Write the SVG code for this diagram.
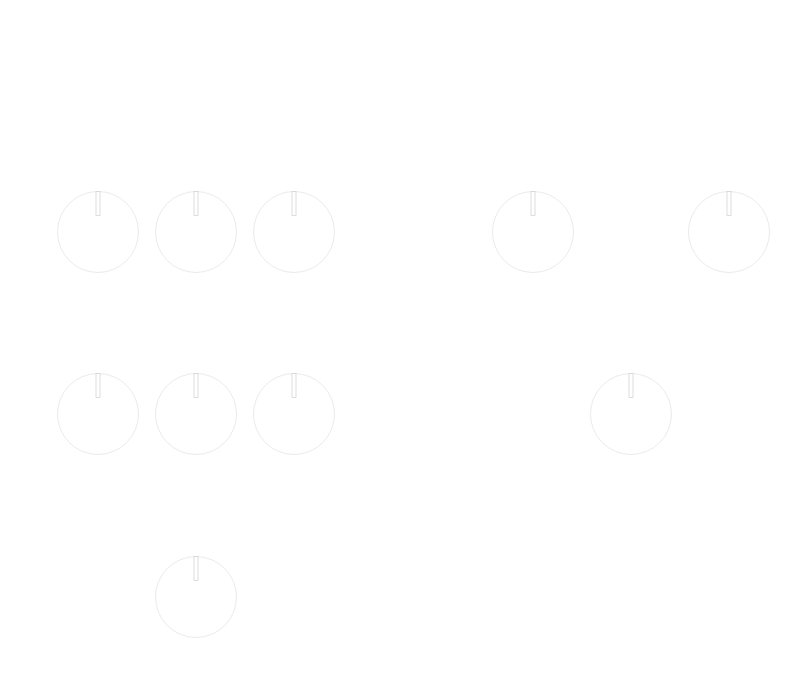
<svg xmlns="http://www.w3.org/2000/svg" width="800" height="675" viewBox="0 0 800 675">
<style>
.dial{fill:#fff;stroke:#dcdcdc;stroke-width:0.6}
.ptr{fill:#fff;stroke:#cfcfcf;stroke-width:0.7}
</style>
<rect width="800" height="675" fill="#fff"/>
<defs>
<g id="knob">
<circle class="dial" cx="0" cy="0" r="40.5"/>
<rect class="ptr" x="-2" y="-40.5" width="4" height="24"/>
</g>
</defs>
<g id="knob1"><use href="#knob" x="98" y="232"/></g>
<g id="knob2"><use href="#knob" x="196" y="232"/></g>
<g id="knob3"><use href="#knob" x="294" y="232"/></g>
<g id="knob4"><use href="#knob" x="533" y="232"/></g>
<g id="knob5"><use href="#knob" x="729" y="232"/></g>
<g id="knob6"><use href="#knob" x="98" y="414"/></g>
<g id="knob7"><use href="#knob" x="196" y="414"/></g>
<g id="knob8"><use href="#knob" x="294" y="414"/></g>
<g id="knob9"><use href="#knob" x="631" y="414"/></g>
<g id="knob10"><use href="#knob" x="196" y="597"/></g>
<g id="connectors"/>
</svg>
